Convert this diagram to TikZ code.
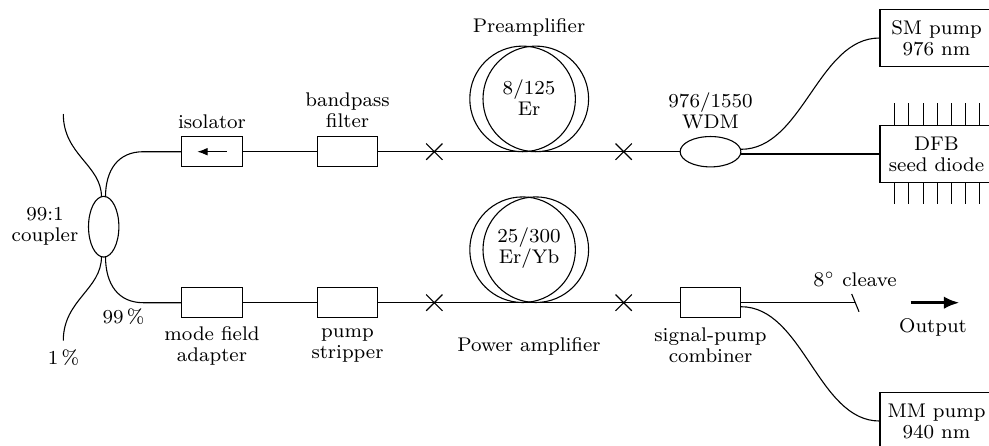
\documentclass[tikz,border=0pt]{standalone}
\usetikzlibrary{shapes.geometric,shapes.misc,arrows.meta}
\tikzset{
    every node/.style={font=\fontsize{7.6}{8.1}\selectfont,align=center},
    fiber/.style={line width=0.42pt},
    box/.style={draw,line width=0.42pt,rectangle,minimum width=0.82cm,minimum height=0.41cm,inner sep=0pt},
    source/.style={draw,line width=0.42pt,rectangle,minimum width=1.526cm,minimum height=0.775cm,inner sep=0pt},
    coupler/.style={draw,line width=0.42pt,ellipse,inner sep=0pt},
    splice/.style={draw,line width=0.42pt,cross out,minimum size=0.205cm,inner sep=0pt}
}
\begin{document}
\begin{tikzpicture}[x=0.0135cm,y=-0.0135cm]
    \useasboundingbox (0,0) rectangle (989,445);

    % Components
    \node[coupler,minimum width=0.41cm,minimum height=0.82cm] (cpl) at (103.7,226.7) {};
    \node[coupler,minimum width=0.82cm,minimum height=0.41cm] (wdm) at (710.5,151.7) {};
    \node[box] (iso) at (212,151.7) {};
    \node[box] (bpf) at (347.5,151.7) {};
    \node[box] (mfa) at (212,302.7) {};
    \node[box] (strip) at (347.5,302.7) {};
    \node[box] (comb) at (710.5,302.7) {};
    \node[source] (sm) at (936.5,38) {SM pump\\976 nm};
    \node[source] (dfb) at (936.5,154) {DFB\\seed diode};
    \node[source] (mm) at (936.5,421) {MM pump\\940 nm};
    \node[splice] (s1) at (434.3,151.7) {};
    \node[splice] (s2) at (623.7,151.7) {};
    \node[splice] (s3) at (434.3,302.7) {};
    \node[splice] (s4) at (623.7,302.7) {};

    % Free fiber ends and tapping points
    \coordinate (tl) at (63.3,114);
    \coordinate (bl) at (63.3,340.7);
    \coordinate (ctl) at (101.5,197);
    \coordinate (ctr) at (105.5,197);
    \coordinate (cbl) at (101.5,256.5);
    \coordinate (cbr) at (105.5,256.5);
    \coordinate (wdmup) at (741,149.3);
    \coordinate (wdmlo) at (741,154);
    \coordinate (combup) at (741,302.7);
    \coordinate (comblo) at (741,306.7);
    \coordinate (cleave) at (855,302.7);
    \coordinate (cleavea) at (851.7,294);
    \coordinate (cleaveb) at (859,311.7);
    \coordinate (outa) at (910.7,302.7);
    \coordinate (outb) at (959.5,302.7);

    % Fiber from the coupler
    \draw[fiber] (tl) .. controls (63.3,155) and (101.5,165) .. (ctl);
    \draw[fiber] (bl) .. controls (63.3,299.7) and (101.5,289.7) .. (cbl);
    \draw[fiber] (ctr) .. controls (105.5,170) and (118,151.7) .. (143.3,151.7) -- (iso.west);
    \draw[fiber] (cbr) .. controls (105.5,284) and (118,302.7) .. (143.3,302.7) -- (mfa.west);

    % Top line
    \draw[fiber] (iso.east) -- (bpf.west);
    \draw[fiber] (bpf.east) -- (wdm.west);
    \draw[fiber] (wdmlo) -- (dfb.west);
    \draw[fiber] (wdmup) .. controls (803,149.3) and (818,38) .. (sm.west);

    % Bottom line
    \draw[fiber] (mfa.east) -- (strip.west);
    \draw[fiber] (strip.east) -- (comb.west);
    \draw[fiber] (combup) -- (cleave);
    \draw[fiber] (cleavea) -- (cleaveb);
    \draw[fiber] (comblo) .. controls (803,306.7) and (818,421) .. (mm.west);

    % Fiber loops
    \foreach \y/\n in {98.9/a,249.7/b} {
        \node[draw,line width=0.42pt,circle,minimum size=1.426cm,inner sep=0pt] (loop\n l) at (522.6,\y) {};
        \node[draw,line width=0.42pt,circle,minimum size=1.426cm,inner sep=0pt] (loop\n r) at (535.8,\y) {};
    }

    % Diode pins
    \foreach \x in {0,...,6} {
        \draw[fiber] (894.7+\x*14.17,103) -- (894.7+\x*14.17,125.7);
        \draw[fiber] (894.7+\x*14.17,182.3) -- (894.7+\x*14.17,204.3);
    }

    % Arrows
    \draw[fiber,-{Latex[length=4pt,width=3pt]}] (226.5,151.7) -- (197.3,151.7);
    \draw[line width=1.2pt,-{Latex[length=6pt,width=4.8pt]}] (outa) -- (outb);

    % Labels
    \node (lpre) at (529,27) {Preamplifier};
    \node (lfib) at (529,98) {8/125\\Er};
    \node (lpow) at (529,346) {Power amplifier};
    \node (ldop) at (529,248) {25/300\\Er/Yb};
    \node (liso) at (212,121.5) {isolator};
    \node (lbpf) at (347.5,110.5) {bandpass\\filter};
    \node (lmfa) at (212,345.5) {mode field\\adapter};
    \node (lstr) at (347.5,345.5) {pump\\stripper};
    \node (lcomb) at (710.5,345.5) {signal-pump\\combiner};
    \node (lwdm) at (710.5,111) {976/1550\\WDM};
    \node (lcpl) at (45,226.5) {99:1\\coupler};
    \node (lnn) at (123.5,317) {99\,\%};
    \node (lone) at (63.5,358) {1\,\%};
    \node (lcle) at (855,279.5) {$8^\circ$ cleave};
    \node (lout) at (933,327) {Output};
\end{tikzpicture}
\end{document}
